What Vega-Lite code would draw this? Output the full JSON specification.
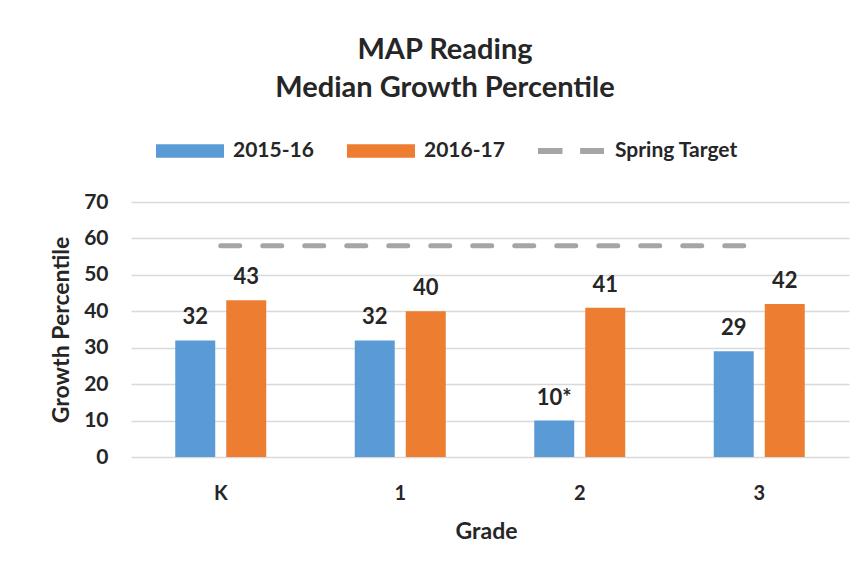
{
  "$schema": "https://vega.github.io/schema/vega-lite/v6.json",
  "width": 718,
  "height": 255,
  "autosize": {"type": "none"},
  "padding": {"left": 131, "top": 202, "right": 17, "bottom": 114},
  "background": "white",
  "title": {
    "text": ["MAP Reading", "Median Growth Percentile"],
    "anchor": "middle",
    "dx": -45,
    "offset": 14,
    "font": "Lato",
    "fontSize": 29,
    "fontWeight": "bold",
    "color": "#262626",
    "lineHeight": 38
  },
  "datasets": {
    "bars": [
      {"grade": "K", "year": "2015-16", "value": 32, "label": "32"},
      {"grade": "K", "year": "2016-17", "value": 43, "label": "43"},
      {"grade": "1", "year": "2015-16", "value": 32, "label": "32"},
      {"grade": "1", "year": "2016-17", "value": 40, "label": "40"},
      {"grade": "2", "year": "2015-16", "value": 10, "label": "10*"},
      {"grade": "2", "year": "2016-17", "value": 41, "label": "41"},
      {"grade": "3", "year": "2015-16", "value": 29, "label": "29"},
      {"grade": "3", "year": "2016-17", "value": 42, "label": "42"}
    ],
    "target": [
      {"grade": "K", "target": 58},
      {"grade": "1", "target": 58},
      {"grade": "2", "target": 58},
      {"grade": "3", "target": 58}
    ]
  },
  "encoding": {
    "x": {
      "field": "grade", "type": "nominal", "sort": ["K", "1", "2", "3"],
      "scale": {"paddingInner": 0.493, "paddingOuter": 0.2465},
      "title": "Grade",
      "axis": {
        "labelAngle": 0, "domain": false, "ticks": false, "labelPadding": 26,
        "labelFont": "Lato", "labelFontSize": 20, "labelFontWeight": "bold", "labelColor": "#262626",
        "titleFont": "Lato", "titleFontSize": 23, "titleFontWeight": "bold", "titleColor": "#262626",
        "titlePadding": 17, "titleX": 355
      }
    }
  },
  "layer": [
    {
      "data": {"name": "bars"},
      "mark": {"type": "bar"},
      "encoding": {
        "xOffset": {"field": "year", "type": "nominal", "scale": {"paddingInner": 0.216}},
        "y": {
          "field": "value", "type": "quantitative",
          "scale": {"domain": [0, 70]},
          "title": "Growth Percentile",
          "axis": {
            "values": [0, 10, 20, 30, 40, 50, 60, 70],
            "tickCount": 8,
            "labelOverlap": false,
            "domain": false, "ticks": false, "grid": true, "gridColor": "#d9d9d9", "gridWidth": 1.5,
            "labelPadding": 23,
            "labelFont": "Lato", "labelFontSize": 21, "labelFontWeight": "bold", "labelColor": "#262626",
            "titleFont": "Lato", "titleFontSize": 23, "titleFontWeight": "bold", "titleColor": "#262626",
            "titlePadding": 10
          }
        },
        "color": {
          "field": "year", "type": "nominal",
          "scale": {"domain": ["2015-16", "2016-17", "Spring Target"], "range": ["#5b9bd5", "#ed7d31", "#a5a5a5"]},
          "legend": {
            "orient": "none", "legendX": 25, "legendY": -85, "direction": "horizontal", "title": null,
            "symbolSize": 4624, "labelOffset": 9, "columnPadding": 33,
            "labelFont": "Lato", "labelFontSize": 21, "labelFontWeight": "bold", "labelColor": "#262626",
            "encode": {
              "symbols": {
                "update": {
                  "shape": {"signal": "datum.value === 'Spring Target' ? 'M-1,-0.09H-0.28V0.09H-1Z M0.24,-0.09H0.94V0.09H0.24Z' : 'M-1,-0.2H1V0.2H-1Z'"},
                  "fill": {"scale": "color", "field": "value"},
                  "strokeWidth": {"value": 0},
                  "opacity": {"value": 1}
                }
              }
            }
          }
        }
      }
    },
    {
      "data": {"name": "bars"},
      "mark": {"type": "text", "baseline": "bottom", "dy": -11, "font": "Lato", "fontSize": 22, "fontWeight": "bold", "color": "#262626"},
      "encoding": {
        "xOffset": {"field": "year", "type": "nominal"},
        "y": {"field": "value", "type": "quantitative"},
        "text": {"field": "label"}
      }
    },
    {
      "data": {"name": "target"},
      "mark": {"type": "line", "strokeDash": [19, 23], "strokeWidth": 5, "strokeCap": "round"},
      "encoding": {
        "y": {"field": "target", "type": "quantitative"},
        "color": {"datum": "Spring Target"}
      }
    }
  ],
  "config": {
    "view": {"stroke": null}
  }
}
